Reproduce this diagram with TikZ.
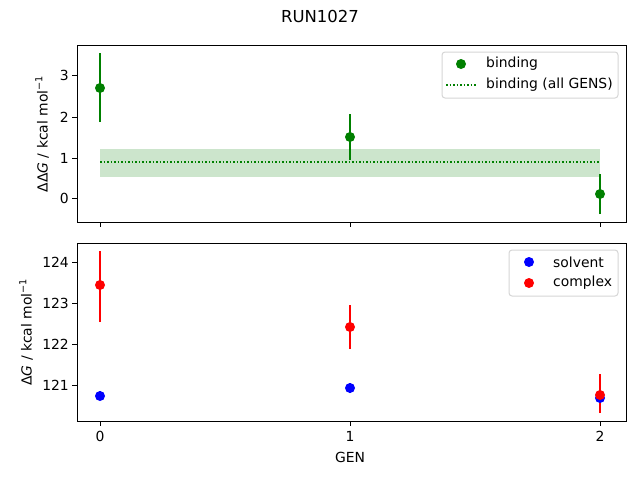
\documentclass[tikz,border=0pt]{standalone}
\usepackage{fontspec}
\setmainfont{DejaVu Sans}
\definecolor{mgreen}{RGB}{0,128,0}
\begin{document}
\begin{tikzpicture}[x=1pt,y=-1pt,
  lab/.style={font=\fontsize{13.9}{16}\selectfont, inner sep=0pt},
  ax/.style={line width=0.9pt},
  eb/.style={line width=2pt},
  mk/.style={circle, inner sep=0pt, minimum size=10pt}]
\useasboundingbox (0,0) rectangle (640,480);
\fill[white] (0,0) rectangle (640,480);
\node[lab,font=\fontsize{16.5}{19}\selectfont] (title) at (320,16) {RUN1027};
% ---- top axes
\fill[mgreen, opacity=0.2] (100,149) rectangle (600,177);
\draw[mgreen, line width=1.5pt, dotted] (100,162) -- (600,162);
\draw[mgreen,eb] (100,122) -- (100,53);
\draw[mgreen,eb] (350,160) -- (350,114);
\draw[mgreen,eb] (600,214) -- (600,174);
\node[mk,fill=mgreen] (b0) at (100,88) {};
\node[mk,fill=mgreen] (b1) at (350,137) {};
\node[mk,fill=mgreen] (b2) at (600,194) {};
\draw[ax] (77,45) rectangle (626,222);
\foreach \y/\t in {198/0,158/1,117/2,75/3}{
  \draw[ax] (77,\y) -- (72,\y);
  \node[lab,anchor=east] at (69,\y) {\t};}
\foreach \x in {100,350,600}{\draw[ax] (\x,222) -- (\x,227);}
\node[lab,rotate=90] (yl1) at (42,134) {ΔΔ\textit{G} / kcal mol\textsuperscript{−1}};
\draw[black!20, line width=1pt, fill=white, opacity=0.8, rounded corners=3pt] (442,52) rectangle (618,98);
\node[mk,fill=mgreen] (l1) at (461,64) {};
\node[lab,anchor=west] at (486,64) {binding};
\draw[mgreen, line width=1.5pt, dotted] (446,85) -- (476,85);
\node[lab,anchor=west] at (486,85) {binding (all GENS)};
% ---- bottom axes
\draw[blue,eb] (100,400) -- (100,391);
\draw[blue,eb] (350,393) -- (350,383);
\draw[blue,eb] (600,402) -- (600,394);
\draw[red,eb] (100,322) -- (100,251);
\draw[red,eb] (350,349) -- (350,305);
\draw[red,eb] (600,413) -- (600,374);
\node[mk,fill=blue] (s0) at (100,396) {};
\node[mk,fill=blue] (s1) at (350,388) {};
\node[mk,fill=blue] (s2) at (600,398) {};
\node[mk,fill=red] (c0) at (100,285) {};
\node[mk,fill=red] (c1) at (350,327) {};
\node[mk,fill=red] (c2) at (600,395) {};
\draw[ax] (77,243) rectangle (626,421);
\foreach \y/\t in {262/124,303/123,344/122,385/121}{
  \draw[ax] (77,\y) -- (72,\y);
  \node[lab,anchor=east] at (69,\y) {\t};}
\foreach \x/\t in {100/0,350/1,600/2}{\draw[ax] (\x,421) -- (\x,426);
  \node[lab,anchor=north] at (\x,431) {\t};}
\node[lab,rotate=90] (yl2) at (26,332) {Δ\textit{G} / kcal mol\textsuperscript{−1}};
\node[lab] (xl) at (350,457) {GEN};
\draw[black!20, line width=1pt, fill=white, opacity=0.8, rounded corners=3pt] (509,250) rectangle (618,296);
\node[mk,fill=blue] (l2) at (529,262) {};
\node[lab,anchor=west] at (553,262) {solvent};
\node[mk,fill=red] (l3) at (529,283) {};
\node[lab,anchor=west] at (553,283) {complex};
\end{tikzpicture}
\end{document}
